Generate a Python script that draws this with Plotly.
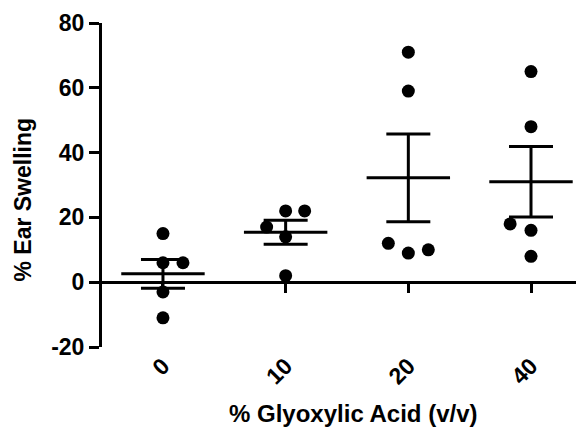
import numpy as np
import plotly.graph_objects as go

# ---- data ----
categories = ["0", "10", "20", "40"]
group_0 = [15, 6, 6, -3, -11]
group_10 = [22, 22, 17, 14, 2]
group_20 = [71, 59, 12, 9, 10]
group_40 = [65, 48, 18, 16, 8]
y_tick_values = [-20, 0, 20, 40, 60, 80]
y_tick_labels = ["-20", "0", "20", "40", "60", "80"]

# ---- style / layout ----
jitter_0 = [0, 0, 0.163, 0, 0]
jitter_10 = [0, 0.155, -0.155, 0, 0]
jitter_20 = [0, 0, -0.163, 0, 0.163]
jitter_40 = [0, 0, -0.17, 0, 0]
groups = [group_0, group_10, group_20, group_40]
jitters = [jitter_0, jitter_10, jitter_20, jitter_40]
mean_half_width = 0.34
FONT = "Liberation Sans, Arial, Helvetica, sans-serif"
FS = 23
PAGE_OFFSET = 8  # default body margin of the html page

fig = go.Figure()

xs, ys = [], []
for i, (g, j) in enumerate(zip(groups, jitters)):
    for v, o in zip(g, j):
        xs.append(i + o)
        ys.append(v)

fig.add_trace(go.Scatter(
    x=xs, y=ys, mode="markers",
    marker=dict(size=13, color="black", line=dict(width=0)),
    showlegend=False, hoverinfo="y",
))

means = [float(np.mean(g)) for g in groups]
sems = [float(np.std(g, ddof=1) / np.sqrt(len(g))) for g in groups]

fig.add_trace(go.Scatter(
    x=list(range(len(categories))), y=means, mode="markers",
    marker=dict(size=1, color="black"),
    error_y=dict(type="data", array=sems, visible=True, color="black",
                 thickness=3, width=22),
    error_x=dict(type="constant", value=mean_half_width, visible=True,
                 color="black", thickness=3, width=0),
    showlegend=False, hoverinfo="skip",
))

# helper trace for the tick axis drawn at y = 0
fig.add_trace(go.Scatter(x=[None], y=[None], xaxis="x2", yaxis="y",
                         showlegend=False, hoverinfo="skip"))

xrange = [-0.497, 3.432]
bold = dict(size=FS, family=FONT, weight="bold", color="black")
bold_title = dict(size=24, family=FONT, weight="bold", color="black")
fig.update_layout(
    width=584 - PAGE_OFFSET, height=429 - PAGE_OFFSET,
    margin=dict(l=102 - PAGE_OFFSET, r=0, t=23 - PAGE_OFFSET, b=82,
                autoexpand=False),
    paper_bgcolor="white", plot_bgcolor="white",
    font=bold,
    xaxis=dict(
        range=xrange, tickvals=list(range(len(categories))), ticktext=categories,
        tickangle=-45, showline=False, showgrid=False, zeroline=False,
        ticks="", tickfont=bold, automargin=False,
        fixedrange=True,
    ),
    xaxis2=dict(
        range=xrange, tickvals=list(range(len(categories))),
        overlaying="x", anchor="free", position=0.2, side="bottom",
        showline=False, showgrid=False, zeroline=False, showticklabels=False,
        ticks="outside", ticklen=10, tickwidth=3, tickcolor="black",
        automargin=False,
    ),
    yaxis=dict(
        range=[-20, 80], tickvals=y_tick_values, ticktext=y_tick_labels,
        showline=True, linewidth=3, linecolor="black", showgrid=False,
        zeroline=True, zerolinewidth=3, zerolinecolor="black",
        ticks="outside", ticklen=10, tickwidth=3, tickcolor="black",
        tickfont=bold, automargin=False,
    ),
    annotations=[
        dict(text="% Ear Swelling", textangle=-90, font=bold, showarrow=False,
             xref="paper", yref="paper", x=-0.164, y=0.455,
             xanchor="center", yanchor="middle"),
        dict(text="% Glyoxylic Acid (v/v)", font=bold_title, showarrow=False,
             xref="paper", yref="paper", x=0.521, y=-0.204,
             xanchor="center", yanchor="middle"),
    ],
)

fig.write_html("out.html")
